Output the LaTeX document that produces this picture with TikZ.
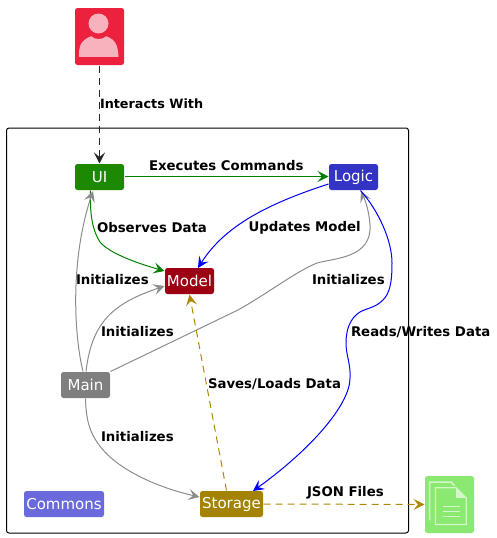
\documentclass[tikz,border=0pt]{standalone}
\usepackage{fontspec}
\setmainfont{DejaVu Sans}
\usetikzlibrary{arrows.meta,positioning}
\definecolor{userred}{HTML}{EB213D}
\definecolor{userpink}{HTML}{F8B2BE}
\definecolor{uigreen}{HTML}{1D8900}
\definecolor{logicblue}{HTML}{3333C4}
\definecolor{modelred}{HTML}{9D0012}
\definecolor{maingray}{HTML}{7F7F7F}
\definecolor{edgegray}{HTML}{8C8C8C}
\definecolor{storegold}{HTML}{A38300}
\definecolor{commonblue}{HTML}{6A6ADC}
\definecolor{filegreen}{HTML}{8BE870}
\definecolor{filelight}{HTML}{D4F7CA}
\definecolor{edgegold}{HTML}{AF8700}
\definecolor{edgegreen}{HTML}{008000}
\tikzset{
  comp/.style={draw=none,rounded corners=2.5pt,text=white,minimum height=26pt,inner sep=0pt,font=\fontsize{15}{15}\selectfont},
  lbl/.style={inner sep=0pt,anchor=west,font=\fontsize{13.3}{13.3}\selectfont\bfseries},
  tip/.style={-{Stealth[length=11pt,width=11pt,inset=4.5pt]}},
}
\begin{document}
\begin{tikzpicture}[x=1pt,y=-1pt,on grid,line width=1pt]
  \useasboundingbox (0,0) rectangle (496,538);
  \node[draw=black,rounded corners=2.5pt,minimum width=402pt,minimum height=405pt,inner sep=0pt] (frame) at (207.5,330.5) {};
  % actor and file
  \node[comp,fill=userred,minimum width=49pt,minimum height=57pt] (user) at (99.5,36.5) {};
  \node[comp,fill=filegreen,minimum width=49pt,minimum height=57pt] (jsonfile) at (449.5,504.5) {};
  % components
  \node[comp,fill=uigreen,minimum width=49pt] (ui) at (99.5,177) {UI};
  \node[comp,fill=logicblue,minimum width=49pt] (logic) [right=254pt of ui] {Logic};
  \node[comp,fill=modelred,minimum width=49pt] (model) at (189.5,281) {Model};
  \node[comp,fill=maingray,minimum width=49pt] (main) at (85.5,385) {Main};
  \node[comp,fill=storegold,minimum width=63pt] (storage) at (231.5,504) {Storage};
  \node[comp,fill=commonblue,minimum width=80pt] (commons) [left=167.5pt of storage] {Commons};
  % icons
  \begin{scope}[shift={(user.north west)}]
    \fill[userpink] (24,16) circle (10);
    \fill[userpink] (4.3,49.3) .. controls (4.5,38) and (6,33) .. (16.7,28.7)
      .. controls (20,32.5) and (28,32.5) .. (31.7,28.7)
      .. controls (41,32) and (43.5,38) .. (44,49.3) -- cycle;
  \end{scope}
  \begin{scope}[shift={(jsonfile.north west)}]
    \draw[filelight,line width=1.5pt] (6,44) -- (5,44) -- (5,6.7) -- (26.7,6.7) -- (30,10);
    \draw[filelight,line width=1.2pt] (11,49) -- (11,12.3) -- (31.7,12.3) -- (41.7,22.3) -- (41.7,49) -- cycle;
    \fill[filelight] (31.7,12.3) -- (41.7,22.3) -- (31.7,22.3) -- cycle;
    \foreach \ly in {31.3,36,40.7}
      \draw[filelight,line width=1.2pt] (18.3,\ly) -- (35,\ly);
  \end{scope}
  % connectors
  \draw[tip,dashed,dash pattern=on 7pt off 5pt,black!85] (user.south) -- (ui.north);
  \draw[tip,edgegreen] ([yshift=.5pt]ui.east) -- ([yshift=.5pt]logic.west);
  \draw[tip,edgegreen] (ui.south west)++(16,0) .. controls (90,210) and (91,228) .. (100,242)
    .. controls (110,254) and (140,264) .. (model.west |- 0,271);
  \draw[tip,blue] (logic.west |- 0,184) .. controls (270,203) and (225,225) .. (198,268);
  \draw[tip,edgegray] (main.north)++(-2.5,0) .. controls (74,335) and (70,260) .. (93,191);
  \draw[tip,edgegray] (main.north)++(0.5,0) .. controls (92,320) and (115,303) .. (model.west |- 0,286);
  \draw[tip,edgegray] (main.north east) -- (238,310) .. controls (270,292) and (295,272) .. (317,263)
    .. controls (335,258) and (372,258) .. (370,225) .. controls (369,210) and (365,200) .. (361,191);
  \draw[tip,blue] (logic.south)++(7,0) .. controls (378,210) and (392,240) .. (392,263)
    .. controls (392,282) and (390,293) .. (383,300) .. controls (375,308) and (367,308) .. (360,312)
    .. controls (350,318) and (346,330) .. (346,343) .. controls (346,355) and (351,365) .. (350,378)
    .. controls (350,405) and (310,450) .. (253,491);
  \draw[tip,edgegray] (main.south) .. controls (86,420) and (90,432) .. (97,442)
    .. controls (115,470) and (160,488) .. (storage.west |- 0,497);
  \draw[tip,edgegold,dashed,dash pattern=on 7pt off 5pt] (storage.north)++(-5,0) -- (model.south);
  \draw[tip,edgegold,dashed,dash pattern=on 7pt off 5pt] (storage.east) -- (jsonfile.west);
  % labels
  \node[lbl,font=\fontsize{12.8}{12.8}\selectfont\bfseries] (interacts) at (99.5,103.5) {Interacts With};
  \node[lbl] (executes) at (148.5,165.5) {Executes Commands};
  \node[lbl] (observes) at (96.5,228) {Observes Data};
  \node[lbl] (updates) at (248,228) {Updates Model};
  \node[lbl] (initui) at (75.5,280) {Initializes};
  \node[lbl] (initlogic) at (311.5,280) {Initializes};
  \node[lbl] (initmodel) at (100.5,332) {Initializes};
  \node[lbl] (readswrites) at (350.5,332) {Reads/Writes Data};
  \node[lbl] (savesloads) at (207.5,384.5) {Saves/Loads Data};
  \node[lbl] (initstorage) at (100.5,436.5) {Initializes};
  \node[lbl] (jsonlabel) at (306.5,492.5) {JSON Files};
\end{tikzpicture}
\end{document}
